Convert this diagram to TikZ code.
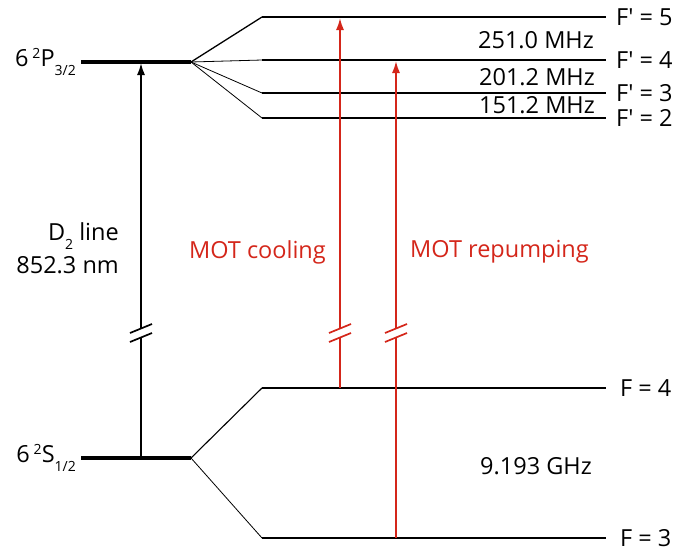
\documentclass[tikz,border=0pt]{standalone}
\usepackage{fontspec}
\setmainfont{Open Sans}
\newfontfamily\primefont{Open Sans}[Ligatures=ResetAll]
\usetikzlibrary{arrows.meta}
\definecolor{motred}{RGB}{212,38,26}
\newcommand{\pr}{{\primefont\char"0027}}
\newcommand{\supx}[1]{\raisebox{0.65ex}{\fontsize{14}{14}\selectfont #1}}
\newcommand{\subx}[1]{\raisebox{-0.75ex}{\fontsize{14}{14}\selectfont #1}}
\begin{document}
\begin{tikzpicture}[x=1pt,y=-1pt,
  lvl/.style={line width=1.7pt},
  thicklvl/.style={line width=4pt},
  fan/.style={line width=0.8pt},
  lbl/.style={font=\fontsize{23.5}{27}\selectfont, inner sep=0pt},
  trans/.style={line width=1.7pt,-{Latex[length=12pt,width=8pt]}},
  brk/.style={line width=1.7pt}]
\useasboundingbox (0,0) rectangle (680,552);
% coordinates
\coordinate (P0) at (81,62); \coordinate (P1) at (191,62);
\coordinate (S0) at (81,458); \coordinate (S1) at (191,458);
\coordinate (F5a) at (262,17); \coordinate (F5b) at (606,17);
\coordinate (F4a) at (262,60); \coordinate (F4b) at (606,60);
\coordinate (F3a) at (262,93); \coordinate (F3b) at (606,93);
\coordinate (F2a) at (262,118); \coordinate (F2b) at (606,118);
\coordinate (G4a) at (262,388); \coordinate (G4b) at (606,388);
\coordinate (G3a) at (262,538); \coordinate (G3b) at (606,538);
% levels
\draw[thicklvl] (P0) -- (P1);
\draw[thicklvl] (S0) -- (S1);
\draw[lvl] (F5a) -- (F5b);
\draw[lvl] (F4a) -- (F4b);
\draw[lvl] (F3a) -- (F3b);
\draw[lvl] (F2a) -- (F2b);
\draw[lvl] (G4a) -- (G4b);
\draw[lvl] (G3a) -- (G3b);
\draw[line width=1.3pt] (P1) -- (F5a);
\draw[fan] (P1) -- (F4a);
\draw[fan] (P1) -- (F3a);
\draw[fan] (P1) -- (F2a);
\draw[line width=1.1pt] (S1) -- (G4a);
\draw[fan] (S1) -- (G3a);
% state labels
\node[lbl, anchor=east] (Plab) at (76,62) {6\,\supx{2}P\subx{3/2}};
\node[lbl, anchor=east] (Slab) at (76,458) {6\,\supx{2}S\subx{1/2}};
\node[lbl, anchor=west] (lF5) at (616,17) {F\pr\ = 5};
\node[lbl, anchor=west] (lF4) at (616,60) {F\pr\ = 4};
\node[lbl, anchor=west] (lF3) at (616,93) {F\pr\ = 3};
\node[lbl, anchor=west] (lF2) at (616,118) {F\pr\ = 2};
\node[lbl, anchor=west] (lG4) at (620,388) {F = 4};
\node[lbl, anchor=west] (lG3) at (620,538) {F = 3};
\node[lbl, anchor=east] (m1) at (594,40) {251.0 MHz};
\node[lbl, anchor=east] (m2) at (595,77) {201.2 MHz};
\node[lbl, anchor=east] (m3) at (595,105) {151.2 MHz};
\node[lbl] (ghz) at (536,466) {9.193 GHz};
\node[lbl, anchor=east] (d2a) at (119,236) {D\subx{2} line};
\node[lbl, anchor=east] (d2b) at (119,265) {852.3 nm};
\node[lbl, anchor=east, text=motred] (cool) at (326,252) {MOT cooling};
\node[lbl, anchor=west, text=motred] (rep) at (410,252) {MOT repumping};
% transitions
\coordinate (Dbot) at (141,458); \coordinate (Dtop) at (141,63);
\coordinate (Cbot) at (340,388); \coordinate (Ctop) at (340,18);
\coordinate (Rbot) at (396,538); \coordinate (Rtop) at (396,61);
\draw[trans] (Dbot) -- (Dtop);
\draw[trans, motred] (Cbot) -- (Ctop);
\draw[trans, motred] (Rbot) -- (Rtop);
% break marks
\foreach \xx/\cc in {141/black,340/motred,396/motred}{
  \fill[white] (\xx-3,329) rectangle (\xx+3,338);
  \draw[brk,\cc] (\xx-11,333) -- (\xx+11,324);
  \draw[brk,\cc] (\xx-11,342) -- (\xx+11,333);
}
\end{tikzpicture}
\end{document}
